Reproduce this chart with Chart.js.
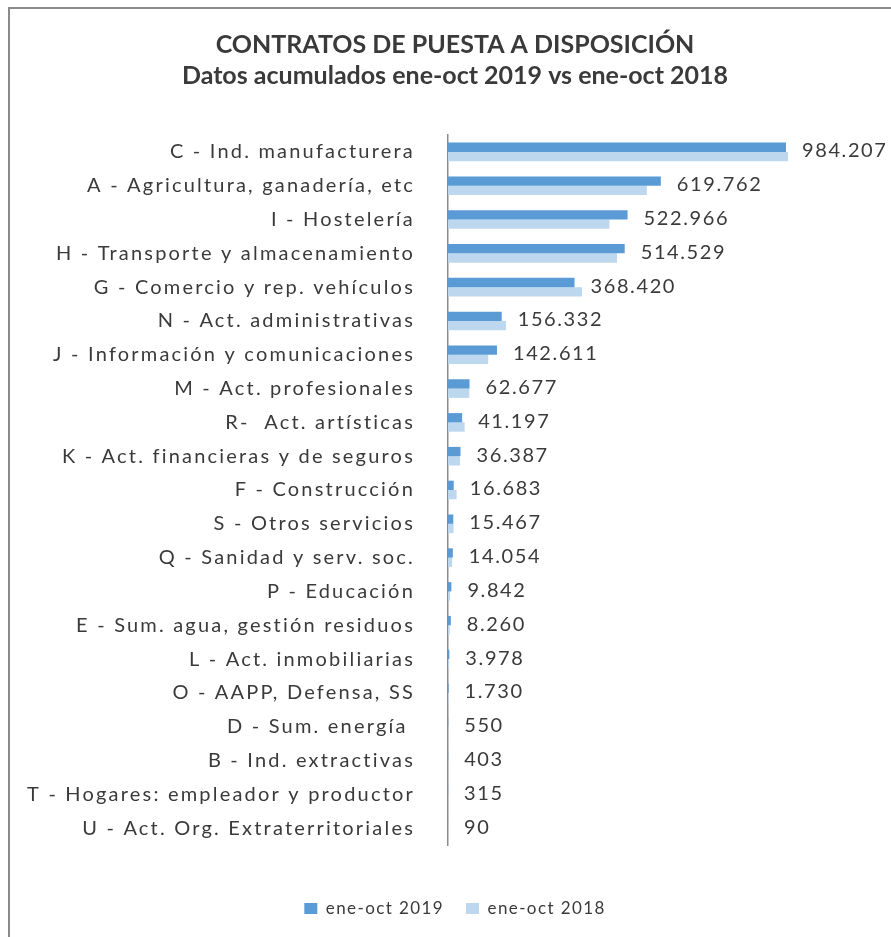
<!DOCTYPE html>
<html>
<head>
<meta charset="utf-8">
<script src="https://cdn.jsdelivr.net/npm/chart.js@4/dist/chart.umd.min.js"></script>
<style>
  html, body { margin: 0; padding: 0; background: #fff; overflow: hidden; }
  #frame { position: absolute; left: 8px; top: 7px; width: 950px; height: 1000px; border-left: 2px solid #8a8a8a; border-top: 2px solid #8a8a8a; }
  #wrap { position: absolute; left: 0; top: 0; width: 891px; height: 937px; }
</style>
</head>
<body>
<div id="frame"></div>
<div id="wrap"><canvas id="contratos"></canvas></div>
<script>
// categorias y valores (ene-oct)
const sectores = [
  "C - Ind. manufacturera",
  "A - Agricultura, ganadería, etc",
  "I - Hostelería",
  "H - Transporte y almacenamiento",
  "G - Comercio y rep. vehículos",
  "N - Act. administrativas",
  "J - Información y comunicaciones",
  "M - Act. profesionales",
  "R-  Act. artísticas",
  "K - Act. financieras y de seguros",
  "F - Construcción",
  "S - Otros servicios",
  "Q - Sanidad y serv. soc.",
  "P - Educación",
  "E - Sum. agua, gestión residuos",
  "L - Act. inmobiliarias",
  "O - AAPP, Defensa, SS",
  "D - Sum. energía ",
  "B - Ind. extractivas",
  "T - Hogares: empleador y productor",
  "U - Act. Org. Extraterritoriales"
];
const datos2019 = [984207, 619762, 522966, 514529, 368420, 156332, 142611, 62677, 41197, 36387,
  16683, 15467, 14054, 9842, 8260, 3978, 1730, 550, 403, 315, 90];
const datos2018 = [990000, 579000, 470000, 492000, 390000, 169000, 117000, 62000, 48500, 35000,
  25000, 16000, 12000, 6000, 5000, 3500, 2000, 600, 500, 400, 100];

const txtColor = "#3a3a3a";
const fam = "Lato, 'Open Sans', sans-serif";

function fmt(v) {
  return v.toString().replace(/\B(?=(\d{3})+(?!\d))/g, ".");
}

// etiquetas de valor al final de la barra 2019
const valueLabels = {
  id: "valueLabels",
  afterDatasetsDraw(chart) {
    const ctx = chart.ctx;
    const meta = chart.getDatasetMeta(0);
    ctx.save();
    ctx.letterSpacing = "1.6px";
    ctx.font = "20px " + fam;
    ctx.fillStyle = txtColor;
    ctx.textAlign = "left";
    ctx.textBaseline = "middle";
    meta.data.forEach(function(bar, i) {
      const y = chart.scales.y.getPixelForValue(i) - 1;
      ctx.fillText(fmt(datos2019[i]), bar.x + 16, y);
    });
    ctx.restore();
  }
};

function withSpacing(chart, fn, sp) {
  return function() {
    chart.ctx.save();
    chart.ctx.letterSpacing = sp;
    const r = fn.apply(this, arguments);
    chart.ctx.restore();
    return r;
  };
}

// espaciado de letras para eje y leyenda
const spacing = {
  id: "spacing",
  beforeLayout(chart) {
    const lg = chart.legend;
    if (lg && !lg._spaced) {
      lg.fit = withSpacing(chart, lg.fit, "1.4px");
      lg.draw = withSpacing(chart, lg.draw, "1.4px");
      lg._spaced = true;
    }
  },
  afterLayout(chart) {
    const y = chart.scales.y;
    if (!y._spaced) {
      y.drawLabels = withSpacing(chart, y.drawLabels, "2.2px");
      y._spaced = true;
    }
  }
};

const chartdata = {
  labels: sectores,
  datasets: [
    {
      label: "ene-oct 2019",
      backgroundColor: "#5B9BD5",
      data: datos2019
    },
    {
      label: "ene-oct 2018",
      backgroundColor: "#BDD7EE",
      data: datos2018
    }
  ]
};

const config = {
  type: "bar",
  data: chartdata,
  options: {
    indexAxis: "y",
    responsive: true,
    maintainAspectRatio: false,
    animation: false,
    datasets: {
      bar: { barPercentage: 1, categoryPercentage: 0.55 }
    },
    layout: {
      padding: { top: 29, right: 0, bottom: 10, left: 19 }
    },
    scales: {
      x: {
        display: true,
        min: 0,
        max: 1290000,
        grid: { display: false, drawTicks: false },
        border: { display: false },
        ticks: { display: false },
        afterFit: function(scale) {
          scale.height = 33;
        }
      },
      y: {
        grid: { display: false, drawTicks: false },
        border: { display: true, color: "#8c8c8c", width: 1.5 },
        ticks: {
          padding: 33,
          color: txtColor,
          font: { family: fam, size: 20 }
        },
        afterFit: function(scale) {
          scale.width = 429;
        }
      }
    },
    plugins: {
      title: {
        display: true,
        text: ["CONTRATOS DE PUESTA A DISPOSICIÓN", "Datos acumulados ene-oct 2019 vs ene-oct 2018"],
        color: txtColor,
        font: { family: fam, size: 25, weight: "bold", lineHeight: 1.24 },
        padding: { top: 0, bottom: 44 }
      },
      legend: {
        position: "bottom",
        labels: {
          color: txtColor,
          font: { family: fam, size: 17 },
          boxWidth: 13,
          boxHeight: 11,
          padding: 22
        }
      },
      tooltip: { enabled: false }
    }
  },
  plugins: [valueLabels, spacing]
};

new Chart(document.getElementById("contratos"), config);
</script>
</body>
</html>
